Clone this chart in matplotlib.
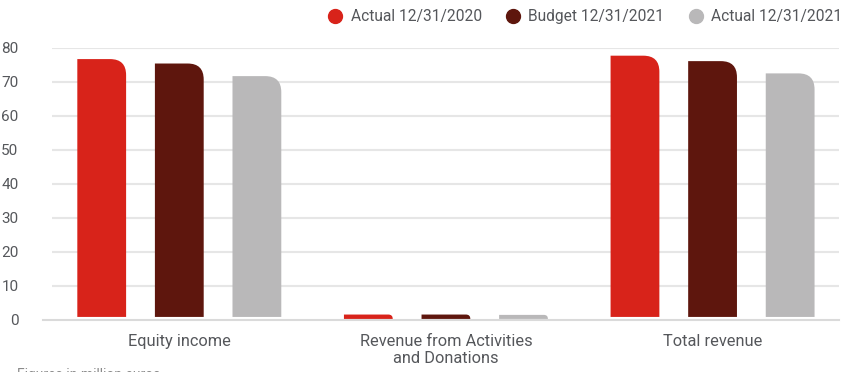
import matplotlib
matplotlib.use("Agg")
import matplotlib.pyplot as plt
import numpy as np
from matplotlib.path import Path
from matplotlib.patches import PathPatch
from matplotlib.lines import Line2D

plt.rcParams['font.family'] = ['Roboto', 'DejaVu Sans']

categories = ['Equity income', 'Revenue from Activities\nand Donations', 'Total revenue']
series_names = ['Actual 12/31/2020', 'Budget 12/31/2021', 'Actual 12/31/2021']
actual_2020 = [76.6, 1.6, 77.6]
budget_2021 = [75.3, 1.6, 76.0]
actual_2021 = [71.6, 1.5, 72.4]
yticks = [0, 10, 20, 30, 40, 50, 60, 70, 80]

colors = ['#D8231A', '#5E160D', '#B9B8B9']
text_grey = '#55575B'

fig = plt.figure(figsize=(8.5, 3.72), dpi=100)
ax = fig.add_axes([0.061, 0.1398, 0.926, 0.7325])

x = np.arange(len(categories))
width = 0.183
step = 0.291
ax.set_xlim(-0.478, 2.474)
ax.set_ylim(0, 80)

# pixels per data unit, used to keep the corner round on screen
px_x = 0.926 * 850 / (2.474 + 0.478)
px_y = 0.7325 * 372 / 80
r_px = 16
base_gap = 0.9


def corner_bar(ax, xc, h, color):
    x0, x1 = xc - width / 2, xc + width / 2
    b = base_gap if h > 3 else base_gap * 0.35
    top = h
    r = min(r_px, (top - b) * px_y)
    rx, ry = r / px_x, r / px_y
    verts = [(x0, b), (x0, top), (x1 - rx, top), (x1, top), (x1, top - ry), (x1, b), (x0, b)]
    codes = [Path.MOVETO, Path.LINETO, Path.LINETO, Path.CURVE3, Path.CURVE3,
             Path.LINETO, Path.CLOSEPOLY]
    ax.add_patch(PathPatch(Path(verts, codes), facecolor=color, edgecolor='none', zorder=3))


for i, vals in enumerate([actual_2020, budget_2021, actual_2021]):
    for xc, v in zip(x + (i - 1) * step, vals):
        corner_bar(ax, xc, v, colors[i])

# gridlines and base line
for t in yticks[1:]:
    ax.axhline(t, color='#E6E6E6', lw=1.5, zorder=1)
ax.plot([-0.51, 2.474], [0, 0], color='#DADADA', lw=1.5, clip_on=False, zorder=2)

for s in ax.spines.values():
    s.set_visible(False)
ax.set_yticks(yticks)
ax.set_yticklabels([str(t) for t in yticks])
ax.tick_params(axis='y', length=0, pad=24, labelsize=11, labelcolor=text_grey)
ax.set_xticks(x)
ax.set_xticklabels(categories, linespacing=1.2)
ax.tick_params(axis='x', length=0, pad=10, labelsize=11.8, labelcolor=text_grey)

handles = [Line2D([], [], marker='o', ls='', markersize=10, color=c) for c in colors]
fig.legend(handles, series_names, loc='center right', bbox_to_anchor=(1.0, 0.955),
           ncol=3, frameon=False, fontsize=11.2, handletextpad=0.0,
           columnspacing=1.0, labelcolor=text_grey, borderaxespad=0.1)

fig.text(0.02, 0.012, 'Figures in million euros', fontsize=10, color='#8A8A8A',
         va='top', ha='left')

fig.savefig('out.png', dpi=100, facecolor='white')
